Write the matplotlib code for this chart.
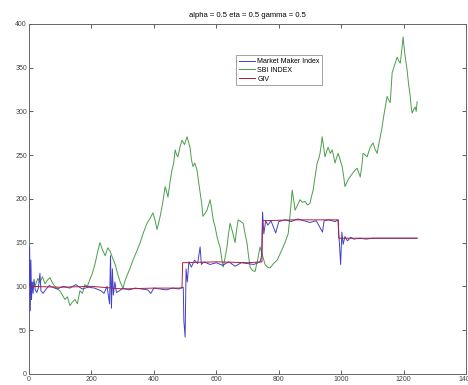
import matplotlib
matplotlib.use("Agg")
import matplotlib.pyplot as plt

plt.rcParams['font.family'] = ['Liberation Sans Narrow', 'Liberation Sans', 'DejaVu Sans']

# SBI INDEX
sbi_x = [0, 6, 13, 20, 28, 35, 43, 51, 59, 67, 75, 83, 91, 99, 107, 115, 123, 131, 139,
         147, 155, 163, 171, 179, 187, 195, 203, 211, 219, 227, 235, 244, 252, 260,
         268, 276, 284, 292, 301, 309, 317, 325, 333, 345, 356, 367, 378, 388, 397, 404,
         410, 415, 420, 428, 436, 441, 445, 452, 458, 463, 468, 473, 477, 484, 490,
         498, 506, 511, 516, 520, 525, 531, 538, 543, 548, 553, 557, 563, 570, 575, 580,
         585, 590, 596, 602, 607, 612, 617, 622, 628, 634, 639, 644, 652, 660, 665, 670,
         678, 686, 692, 698, 703, 708, 716, 724, 732, 740, 748, 756, 764, 772, 783, 795,
         805, 814, 822, 830, 837, 843, 848, 852, 860, 868, 876, 884, 892, 900, 905, 910,
         916, 923, 928, 932, 936, 939, 944, 948, 953, 958, 965, 971, 976, 980, 985, 990,
         997, 1003, 1008, 1012, 1017, 1022, 1030, 1038, 1045, 1051, 1056, 1061, 1066, 1070,
         1077, 1083, 1088, 1093, 1098, 1102, 1108, 1115, 1120, 1125, 1130, 1134, 1140,
         1147, 1152, 1157, 1160, 1163, 1171, 1179, 1184, 1189, 1194, 1198, 1204, 1211,
         1216, 1221, 1224, 1227, 1232, 1237, 1240, 1243]
sbi_y = [100, 96, 105, 101, 109, 104, 111, 103, 107, 110, 104, 100, 97, 95, 90, 85, 88,
         78, 82, 85, 80, 95, 92, 102, 100, 108, 115, 125, 138, 150, 142, 135, 144, 140,
         132, 125, 114, 105, 98, 108, 115, 122, 130, 140, 150, 162, 172, 178, 184, 175,
         165, 172, 180, 195, 214, 208, 202, 220, 233, 240, 256, 250, 248, 260, 267,
         262, 271, 265, 258, 245, 237, 241, 233, 220, 207, 195, 180, 183, 187, 193, 199,
         188, 176, 168, 157, 150, 145, 132, 122, 133, 145, 160, 172, 162, 150, 165, 176,
         174, 172, 160, 150, 135, 122, 118, 117, 130, 145, 135, 125, 122, 121, 126, 130,
         138, 145, 152, 160, 185, 210, 198, 187, 193, 199, 196, 197, 193, 195, 203, 210,
         225, 241, 246, 252, 262, 271, 258, 248, 254, 259, 252, 256, 248, 241, 247, 252,
         244, 237, 225, 214, 218, 222, 226, 230, 233, 235, 230, 225, 238, 252,
         250, 248, 254, 259, 262, 264, 257, 252, 262, 271, 280, 290, 303,
         317, 313, 310, 328, 344, 353, 362, 358, 355, 370, 385, 365, 347,
         330, 317, 305, 298, 302, 305, 300, 311]

# Market Maker Index
mmi_x = [0, 2, 4, 6, 8, 10, 13, 16, 20, 25, 30, 35, 38, 45, 55, 65, 75, 90, 110, 130,
         150, 170, 190, 210, 230, 240, 250, 258, 261, 264, 267, 270, 275, 280, 290, 300,
         320, 340, 360, 380, 390, 400, 420, 440, 460, 480, 490, 494, 496, 500, 503, 507,
         512, 520, 530, 540, 548, 552, 560, 580, 600, 620, 640, 660, 680, 700, 720, 740,
         745, 748, 752, 758, 765, 775, 790, 800, 820, 840, 860, 880, 900, 920, 940, 945,
         960, 980, 990, 994, 998, 1002, 1006, 1012, 1020, 1030, 1040, 1060, 1080, 1100,
         1150, 1200, 1243]
mmi_y = [100, 145, 72, 130, 85, 105, 92, 108, 96, 93, 98, 115, 95, 92, 97, 101, 99, 97,
         100, 98, 102, 97, 99, 98, 95, 92, 100, 80, 135, 75, 120, 90, 105, 93, 95, 98,
         96, 98, 97, 96, 92, 98, 97, 96, 98, 97, 99, 99, 60, 42, 120, 105,
         128, 122, 130, 126, 145, 125, 128, 125, 127, 124, 128, 123, 127, 126, 125, 128,
         135, 185, 160, 175, 170, 175, 161, 174, 176, 174, 177, 175, 173, 175, 162, 175,
         176, 174, 176, 150, 125, 162, 148, 157, 152, 156, 154, 155, 154, 155,
         155, 155, 155]

# GIV
giv_x = [0, 100, 200, 300, 400, 490, 492, 600, 700, 746, 748, 850, 990, 992, 1100, 1243]
giv_y = [100, 99, 100, 97, 98, 98, 127, 128, 127, 128, 175, 176, 176, 155, 155, 155]

x_ticks = [0, 200, 400, 600, 800, 1000, 1200, 1400]
y_ticks = [0, 50, 100, 150, 200, 250, 300, 350, 400]

fig = plt.figure(figsize=(4.68, 3.85), dpi=100)
ax = fig.add_axes([0.062, 0.029, 0.934, 0.909])

ax.plot(mmi_x, mmi_y, color='#4040cc', lw=0.7, label='Market Maker Index', zorder=3)
ax.plot(sbi_x, sbi_y, color='#4a9e4a', lw=0.7, label='SBI INDEX', zorder=2)
ax.plot(giv_x, giv_y, color='#b02030', lw=0.7, label='GIV', zorder=4)

ax.set_xlim(0, 1400)
ax.set_ylim(0, 400)
ax.set_xticks(x_ticks)
ax.set_yticks(y_ticks)
ax.tick_params(direction='in', length=3, width=0.6, labelsize=5, pad=1.5,
               top=True, right=True, colors='#444444')
for s in ax.spines.values():
    s.set_color('#666666')
    s.set_linewidth(0.7)

ax.set_title('alpha = 0.5 eta = 0.5 gamma = 0.5', fontsize=5.5, pad=5)

leg = ax.legend(loc='upper left', bbox_to_anchor=(0.465, 0.92), fontsize=5,
                frameon=True, fancybox=False, handlelength=2.4, handletextpad=0.3,
                labelspacing=0.25, borderpad=0.4)
leg.get_frame().set_edgecolor('#777777')
leg.get_frame().set_linewidth(0.6)

fig.savefig('out.png', dpi=100)
